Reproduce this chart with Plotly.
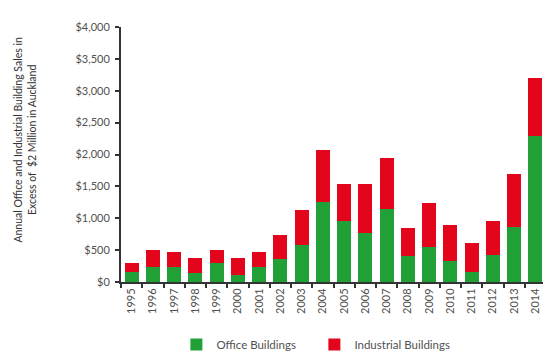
import plotly.graph_objects as go

years = [str(y) for y in range(1995, 2015)]
office = [152, 228, 238, 142, 295, 106, 228, 365, 577, 1251, 958, 765, 1139, 410, 547, 325, 162, 421, 856, 2289]
totals = [295, 497, 471, 375, 507, 375, 471, 735, 1124, 2076, 1544, 1540, 1950, 850, 1241, 902, 613, 963, 1692, 3195]
industrial = [t - o for t, o in zip(totals, office)]
y_ticks = [0, 500, 1000, 1500, 2000, 2500, 3000, 3500, 4000]
y_tick_labels = ["$0", "$500", "$1,000", "$1,500", "$2,000", "$2,500", "$3,000", "$3,500", "$4,000"]

GREEN = "#21a038"
RED = "#e3051b"
TXT = "#505050"
FONT = "Lato"

fig = go.Figure()
fig.add_trace(go.Bar(x=years, y=office, name="Office Buildings", marker=dict(color=GREEN, line=dict(width=0))))
fig.add_trace(go.Bar(x=years, y=industrial, name="Industrial Buildings", marker=dict(color=RED, line=dict(width=0))))

fig.update_layout(
    barmode="stack",
    bargap=0.34,
    width=551, height=363,
    margin=dict(l=113, r=13, t=19, b=80),
    paper_bgcolor="white", plot_bgcolor="white",
    font=dict(family=FONT, size=11, color=TXT),
    showlegend=True,
    legend=dict(orientation="h", x=0.455, xanchor="center", y=-0.245, yanchor="middle",
                font=dict(family=FONT, size=11.5, color=TXT), entrywidth=93, traceorder="normal"),
    xaxis=dict(type="category", tickangle=-90, showline=True, linecolor="#333333", linewidth=2,
               ticks="outside", tickson="boundaries", ticklen=4, tickcolor="#333333", tickwidth=1.5,
               showgrid=False, tickfont=dict(family=FONT, size=11, color=TXT)),
    yaxis=dict(range=[0, 4000], tickvals=y_ticks, ticktext=y_tick_labels, showline=True,
               linecolor="#333333", linewidth=2, ticks="outside", ticklen=4, tickcolor="#333333",
               tickwidth=1.5, showgrid=False, zeroline=False, ticklabelstandoff=3,
               tickfont=dict(family=FONT, size=11, color=TXT)),
)

fig.add_annotation(
    text="Annual Office and Industrial Building Sales in<br>Excess of  $2 Million in Auckland",
    xref="paper", yref="paper", x=-0.225, y=0.56, xanchor="center", yanchor="middle",
    textangle=-90, showarrow=False, font=dict(family=FONT, size=10.5, color="#333333"),
)

fig.write_html("out.html")
